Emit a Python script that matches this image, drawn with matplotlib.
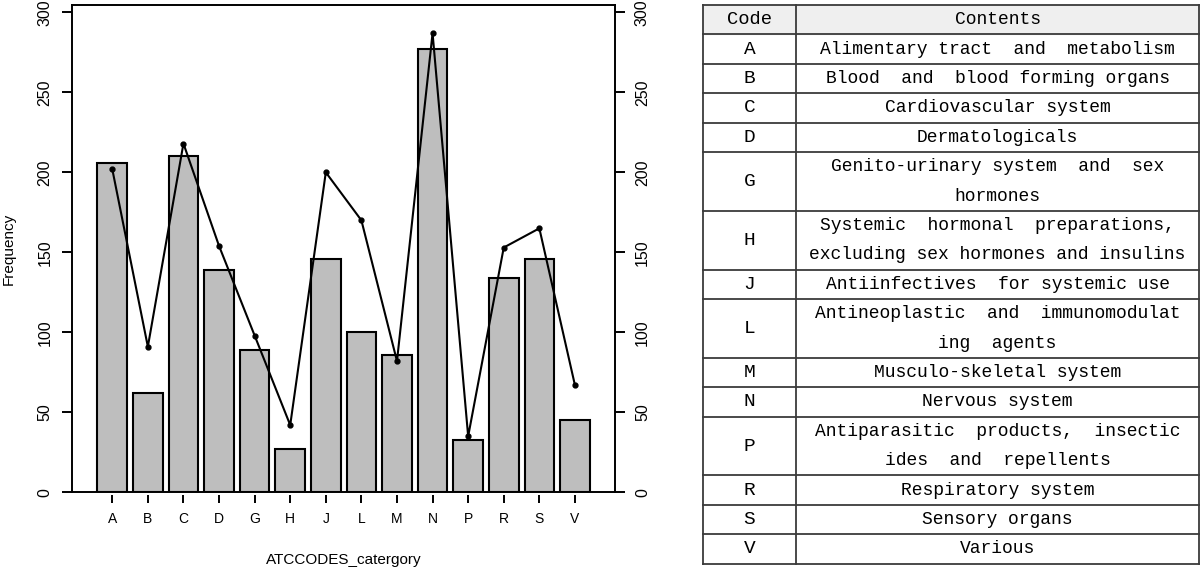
import numpy as np
import matplotlib
matplotlib.use('Agg')
import matplotlib.pyplot as plt

# ATC kodlari ve frekanslar
codes = ['A', 'B', 'C', 'D', 'G', 'H', 'J', 'L', 'M', 'N', 'P', 'R', 'S', 'V']
bar_freq = [206, 62, 210, 139, 89, 27, 146, 100, 86, 277, 33, 134, 146, 45]
line_freq = [202, 91, 218, 154, 98, 42, 200, 170, 82, 287, 35, 153, 165, 67]
yticks = [0, 50, 100, 150, 200, 250, 300]

# Tablo icerigi
table_header = ['Code', 'Contents']
contents = [
    ['Alimentary tract  and  metabolism'],
    ['Blood  and  blood forming organs'],
    ['Cardiovascular system'],
    ['Dermatologicals'],
    ['Genito-urinary system  and  sex', 'hormones'],
    ['Systemic  hormonal  preparations,', 'excluding sex hormones and insulins'],
    ['Antiinfectives  for systemic use'],
    ['Antineoplastic  and  immunomodulat', 'ing  agents'],
    ['Musculo-skeletal system'],
    ['Nervous system'],
    ['Antiparasitic  products,  insectic', 'ides  and  repellents'],
    ['Respiratory system'],
    ['Sensory organs'],
    ['Various'],
]

plt.rcParams['font.family'] = ['Liberation Sans', 'DejaVu Sans']

W, H = 1200, 568
fig = plt.figure(figsize=(W / 100, H / 100), dpi=100)

# Bar + cizgi grafigi
ax = fig.add_axes([71.7 / W, 1 - 492.3 / H, 543.8 / W, 487.3 / H])
x = np.arange(len(codes))
ax.bar(x, bar_freq, width=0.833, color='#bebebe', edgecolor='black', linewidth=1.5, zorder=2)
ax.plot(x, line_freq, color='black', linewidth=1.5, marker='o', markersize=3.5, zorder=3)
ax.set_xlim(-1.14, 14.14)
ax.set_ylim(0, 304.6)
ax.set_xticks(x)
ax.set_xticklabels(codes, fontsize=12)
ax.set_yticks(yticks)
ax.set_yticklabels([str(v) for v in yticks], fontsize=11.5, rotation=90, va='center')
ax.tick_params(axis='y', right=True, labelright=True, length=7, width=1.4, pad=7, labelsize=11.5)
ax.yaxis.set_tick_params(which='both', labelrotation=90)
for lab in ax.get_yticklabels(which='both'):
    lab.set_va('center')
ax.tick_params(axis='x', length=5.5, width=1.4, pad=6.5)
for s in ['left', 'right', 'top']:
    ax.spines[s].set_linewidth(1.4)
ax.spines['bottom'].set_position(('outward', 2.2))
ax.spines['bottom'].set_visible(False)
ax.axhline(0, color='black', linewidth=1.4, clip_on=False, zorder=4)
ax.set_xlabel('ATCCODES_catergory', fontsize=11, va='center')
ax.xaxis.set_label_coords(0.5, -0.139)
ax.set_ylabel('Frequency', fontsize=11, va='center')
ax.yaxis.set_label_coords(-0.1166, 0.5)

# Tablo
tx = fig.add_axes([703 / W, 1 - 563.7 / H, 496 / W, 558.7 / H])
n_lines = [len(c) for c in contents]
total = 1 + sum(n_lines)
tx.set_xlim(0, 496)
tx.set_ylim(total, 0)
tx.axis('off')
mono = ['Liberation Mono', 'DejaVu Sans Mono']
line_col = '#3a3a3a'
div = 93

tx.fill_between([0, 496], 0, 1, color='#efefef', zorder=0)
tx.text(div / 2, 0.5, table_header[0], ha='center', va='center', fontsize=13.5, family=mono)
tx.text((div + 496) / 2, 0.5, table_header[1], ha='center', va='center', fontsize=13, family=mono)

top = 1
for code, lines in zip(codes, contents):
    n = len(lines)
    tx.text(div / 2, top + n / 2, code, ha='center', va='center', fontsize=14, family=mono)
    for i, line in enumerate(lines):
        tx.text((div + 496) / 2, top + 0.5 + i, line, ha='center', va='center',
                fontsize=13, family=mono)
    tx.plot([0, 496], [top, top], color=line_col, linewidth=1.3, clip_on=False)
    top += n

tx.plot([0, 496], [0, 0], color=line_col, linewidth=1.3, clip_on=False)
tx.plot([0, 496], [total, total], color=line_col, linewidth=1.3, clip_on=False)
tx.plot([0, 0], [0, total], color=line_col, linewidth=1.3, clip_on=False)
tx.plot([496, 496], [0, total], color=line_col, linewidth=1.3, clip_on=False)
tx.plot([div, div], [0, total], color=line_col, linewidth=1.3, clip_on=False)

fig.savefig('out.png', dpi=100)
